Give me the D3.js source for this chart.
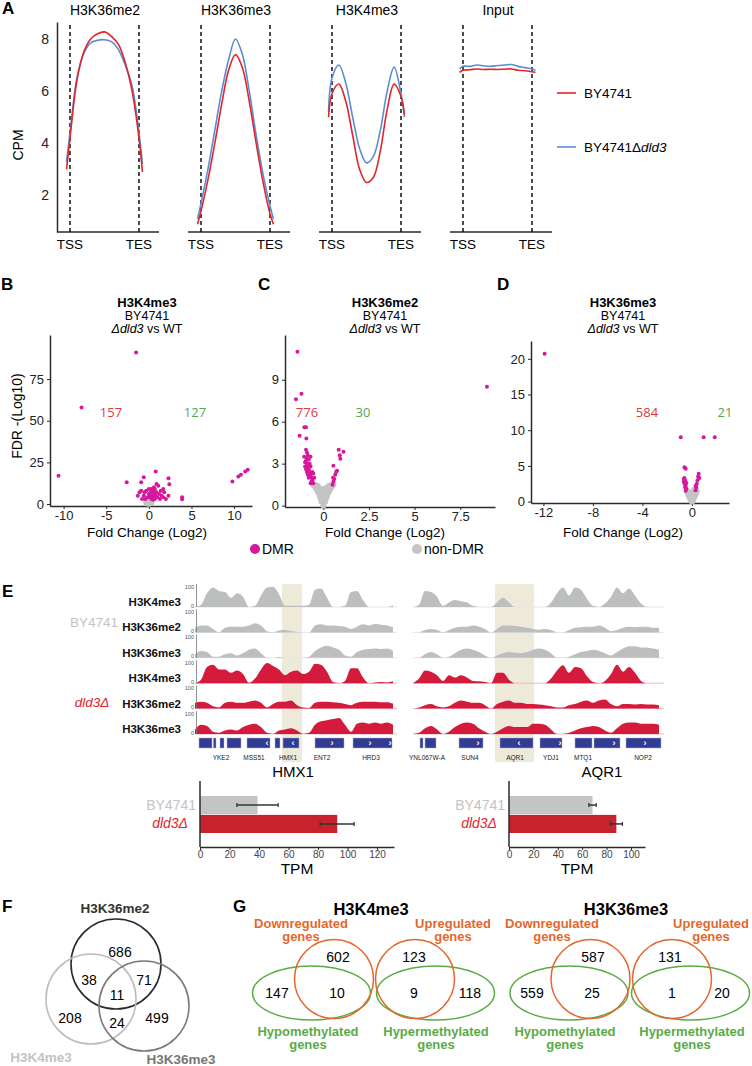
<!DOCTYPE html>
<html>
<head>
<meta charset="utf-8">
<script src="https://cdn.jsdelivr.net/npm/d3@7"></script>
<style>
  body { margin: 0; background: #fff; }
  svg { display: block; }
</style>
</head>
<body>
<script>
console.clear();

// 1. DATA -------------------------------------------------------------------------

// A. metagene profiles (CPM), sampled from 5% upstream of TSS to 5% past TES
const profilePos   = [-0.05, 0, 0.1, 0.2, 0.3, 0.4, 0.5, 0.6, 0.7, 0.8, 0.9, 1, 1.05];
const profileMarks = ["H3K36me2", "H3K36me3", "H3K4me3", "Input"];
const profileWT = [
  [3.0, 4.2, 6.4, 7.5, 8.0, 8.2, 8.27, 8.1, 7.8, 7.1, 6.0, 4.2, 2.9],
  [0.9, 1.4, 2.6, 4.0, 5.5, 6.8, 7.4, 6.9, 5.6, 4.0, 2.5, 1.3, 0.9],
  [5.0, 5.9, 6.27, 5.6, 4.3, 3.0, 2.5, 2.7, 3.7, 5.3, 6.27, 5.8, 5.1],
  [6.72, 6.8, 6.82, 6.85, 6.83, 6.84, 6.83, 6.84, 6.85, 6.8, 6.78, 6.74, 6.72]
];
const profileKO = [
  [3.3, 4.4, 6.5, 7.45, 7.85, 7.95, 7.97, 7.9, 7.6, 7.0, 6.2, 4.4, 3.2],
  [1.1, 1.7, 3.0, 4.5, 6.0, 7.2, 8.0, 7.4, 6.0, 4.3, 2.8, 1.6, 1.1],
  [5.2, 6.5, 7.0, 6.3, 5.0, 3.8, 3.25, 3.5, 4.5, 6.0, 6.92, 5.9, 5.0],
  [6.85, 6.95, 6.95, 7.0, 6.97, 6.95, 6.98, 7.0, 7.02, 6.95, 6.9, 6.85, 6.8]
];

// B-D. volcano plots: [log2 fold change, -log10 FDR]
const volcanoTitles = ["H3K4me3", "H3K36me2", "H3K36me3"];
const dmrDownCounts = [157, 776, 584];
const dmrUpCounts   = [127, 30, 21];

const k4DMR = [
  [-1.5, 91], [-7.9, 58], [-10.6, 17], [-2.6, 13], [-0.9, 13], [-0.6, 16], [0.8, 19.5], [2.3, 15.5],
  [2.4, 11.8], [1.7, 9], [3.9, 4], [3.9, 2.8], [9.8, 13.5], [10.5, 16.5], [10.8, 17.5], [11.3, 19.5], [11.6, 20.5],
  [-0.5, 7], [-0.3, 8], [0, 6], [0.2, 5], [0.4, 7.5], [0.5, 8], [0.6, 6], [0.8, 5], [1, 4], [1.2, 6],
  [1.5, 5], [1.7, 4], [2, 3], [-0.8, 3], [-0.6, 5], [0.3, 9], [0.1, 4], [0.7, 3], [-0.2, 4], [0.9, 7],
  [1.4, 8], [0.6, 10], [0.9, 12], [1.1, 11], [0.8, 7], [-1.1, 7], [-0.9, 8], [0.5, 4], [0.3, 3],
  [-0.4, 3], [1.8, 7], [2.3, 5], [0, 9], [0.2, 7], [0.4, 5], [0.7, 9], [1.3, 3], [-1.3, 5], [0.5, 2.5]
];
const k4Other = [
  [-0.3, 0.5], [-0.2, 1], [-0.1, 1.5], [0, 0.2], [0.1, 1.2], [0.2, 2], [0.3, 0.8], [-0.4, 2.5],
  [0.4, 2.8], [0, 2], [-0.15, 3], [0.15, 0.5], [0.05, 2.5], [-0.05, 1], [0.25, 3.2], [-0.25, 1.8]
];
const k36me2DMR = [
  [-1.42, 11], [-1.2, 8.0], [-1.5, 7.6], [-1.04, 5.6], [-0.95, 5.6], [-1.3, 5.0], [-0.93, 4.8],
  [-0.55, 1.6], [-0.6, 1.8], [-0.65, 2], [-0.7, 2.2], [-0.75, 2.4], [-0.8, 2.6], [-0.85, 2.8], [-0.9, 3.0],
  [-0.95, 3.2], [-0.9, 3.4], [-0.85, 3.6], [-0.9, 3.8], [-0.95, 4.0], [-0.7, 1.6], [-0.8, 2.0], [-0.9, 2.4],
  [-1.0, 2.8], [-1.0, 3.1], [-0.6, 2.4], [-0.7, 2.8], [-0.75, 3.0], [-0.5, 2.0], [-0.55, 2.3], [-0.65, 1.7],
  [-0.85, 2.2], [-0.95, 2.6], [-0.8, 3.3], [-0.7, 3.5], [-1.05, 3.5],
  [0.5, 1.5], [0.55, 1.7], [0.6, 1.9], [0.53, 2.0], [0.65, 2.2], [0.7, 2.4], [0.75, 2.5], [0.55, 2.85],
  [0.93, 3.35], [0.9, 3.6], [0.84, 4.0], [1.1, 3.85], [8.96, 8.5]
];
const k36me2Other = [
  [0, 0], [0, 0.3], [-0.1, 0.3], [0.1, 0.3], [-0.15, 0.5], [0.15, 0.5], [-0.2, 0.7], [0.2, 0.7],
  [-0.25, 0.9], [0.25, 0.9], [-0.3, 1.0], [0.3, 1.0], [-0.35, 1.1], [0.35, 1.1], [-0.4, 1.25], [0.4, 1.25],
  [-0.45, 1.35], [0.45, 1.35], [-0.5, 1.45], [0.5, 1.45], [-0.3, 1.4], [0.3, 1.4], [-0.1, 1.0], [0.1, 0.9],
  [-0.2, 1.2], [0.2, 1.3], [0, 0.6], [-0.4, 1.45], [0.4, 1.45], [0.55, 1.5], [-0.55, 1.5], [0, 1.2]
];
const k36me3DMR = [
  [-11.9, 20.7], [-0.9, 9], [0.95, 9], [1.85, 9],
  [-0.5, 1.5], [-0.55, 2], [-0.6, 2.5], [-0.55, 3], [-0.6, 3.3], [-0.65, 2.8], [-0.5, 2.2], [-0.45, 1.8],
  [-0.6, 4.8], [-0.5, 4.6], [-0.55, 4.7], [-0.65, 3.2], [-0.45, 2.6],
  [0.3, 1.6], [0.35, 2], [0.4, 2.5], [0.45, 3], [0.5, 3.5], [0.55, 3.9], [0.3, 2.2], [0.6, 3.3]
];
const k36me3Other = [
  [0, 0], [-0.1, 0.3], [0.1, 0.3], [-0.2, 0.6], [0.2, 0.6], [-0.3, 1.0], [0.3, 1.0], [-0.35, 1.3],
  [0.35, 1.3], [-0.4, 1.5], [0.4, 1.5], [0, 0.8], [-0.1, 1.2], [0.1, 1.4], [0.2, 1.7], [-0.2, 1.1], [0.05, 0.1]
];

// E. browser tracks (coverage 0-100 in 0.3 kb bins), row order K4me3, K36me2, K36me3
const trackNames = ["H3K4me3", "H3K36me2", "H3K36me3"];
const hmxWT = [
  [0, 10, 60, 85, 70, 65, 40, 60, 45, 0, 5, 50, 85, 88, 55, 5, 5, 5, 5, 10, 75, 80, 40, 0, 0, 5, 65, 70, 30, 0, 0, 0, 0, 8],
  [20, 30, 30, 15, 0, 20, 25, 25, 25, 30, 40, 30, 5, 0, 8, 10, 5, 3, 0, 0, 30, 35, 30, 30, 28, 25, 15, 25, 35, 30, 38, 33, 30, 22],
  [15, 30, 25, 5, 5, 15, 20, 10, 20, 35, 40, 20, 0, 0, 5, 0, 0, 0, 0, 5, 30, 45, 52, 45, 35, 10, 5, 25, 35, 38, 40, 38, 40, 30]
];
const hmxKO = [
  [0, 15, 70, 80, 60, 60, 45, 55, 40, 2, 20, 60, 88, 75, 60, 35, 50, 55, 40, 50, 85, 80, 50, 5, 0, 10, 65, 65, 25, 0, 3, 5, 3, 8],
  [25, 30, 25, 10, 5, 25, 30, 25, 25, 30, 35, 25, 5, 20, 30, 30, 35, 15, 5, 3, 25, 30, 30, 28, 25, 20, 15, 25, 30, 30, 30, 28, 28, 22],
  [20, 40, 35, 10, 5, 15, 20, 15, 30, 40, 45, 30, 5, 0, 15, 20, 25, 15, 0, 5, 40, 55, 60, 65, 70, 40, 10, 45, 50, 45, 50, 45, 50, 40]
];
const aqrWT = [
  [0, 10, 70, 65, 45, 5, 20, 30, 25, 20, 5, 0, 0, 0, 20, 40, 20, 0, 0, 0, 0, 0, 0, 20, 60, 85, 50, 85, 75, 35, 5, 0, 15, 45, 85, 60, 80, 50, 15, 0, 0, 0],
  [0, 0, 10, 15, 10, 0, 10, 20, 25, 25, 30, 25, 15, 0, 15, 30, 30, 28, 25, 20, 15, 12, 15, 10, 0, 0, 10, 20, 22, 25, 25, 30, 20, 5, 10, 20, 25, 22, 25, 25, 20, 20],
  [0, 0, 15, 25, 15, 0, 5, 20, 35, 40, 35, 25, 10, 0, 10, 20, 25, 22, 20, 25, 35, 40, 35, 20, 0, 0, 5, 15, 25, 30, 35, 30, 20, 10, 25, 40, 50, 50, 45, 45, 40, 35]
];
const aqrKO = [
  [0, 20, 55, 50, 35, 10, 35, 25, 35, 25, 10, 8, 5, 0, 45, 45, 15, 0, 0, 0, 0, 0, 0, 20, 55, 78, 45, 70, 65, 30, 5, 0, 10, 40, 80, 50, 70, 45, 10, 0, 0, 0],
  [0, 5, 15, 20, 10, 5, 10, 25, 35, 30, 25, 25, 15, 0, 20, 30, 35, 25, 25, 20, 20, 18, 15, 10, 5, 5, 15, 20, 30, 35, 25, 35, 40, 20, 10, 20, 20, 18, 20, 18, 18, 15],
  [0, 5, 25, 35, 20, 0, 10, 30, 45, 50, 45, 25, 10, 0, 10, 25, 35, 30, 30, 30, 45, 45, 40, 20, 0, 0, 5, 15, 25, 30, 35, 30, 15, 5, 25, 45, 50, 50, 45, 45, 45, 40]
];
const binKb = 0.3;

// gene models (kb from window start)
const hmxGeneBlocks = [[0.2, 0.85], [0.92, 1.05], [1.25, 1.45], [1.6, 2.3], [2.6, 3.75], [4.0, 4.25], [4.4, 5.2], [6.0, 7.45], [7.9, 9.85]];
const hmxGeneNames  = [["YKE2", 1.3], ["MSS51", 2.95], ["HMX1", 4.65], ["ENT2", 6.35], ["HRD3", 8.8]];
const hmxArrows     = [["‹", 3.6], ["‹", 4.9], ["›", 6.85], ["›", 8.75], ["›", 9.75]];
const aqrGeneBlocks = [[0.35, 0.5], [0.6, 1.15], [2.3, 3.5], [4.35, 6.0], [6.35, 7.45], [8.1, 8.95], [9.05, 10.35], [10.65, 12.4]];
const aqrGeneNames  = [["YNL067W-A", 0.7], ["SUN4", 2.85], ["AQR1", 5.1], ["YDJ1", 6.9], ["MTQ1", 8.5], ["NOP2", 11.5]];
const aqrArrows     = [["›", 3.25], ["‹", 5.3], ["›", 7.35], ["›", 10.05], ["›", 11.6]];
const hmxHighlight = [4.35, 5.35],
      aqrHighlight = [4.1, 6.05];

// E. expression (TPM, mean and sd)
const strains = ["BY4741", "dld3Δ"];
const hmxTPM = [39, 93],
      hmxSD  = [14, 11.5];
const aqrTPM = [68.5, 88],
      aqrSD  = [3, 5];

// F. DMR overlap (H3K36me2 only, me2∩K4, me2∩me3, all, K4 only, K4∩me3, me3 only)
const vennFSets   = ["H3K36me2", "H3K4me3", "H3K36me3"];
const vennFCounts = [686, 38, 71, 11, 208, 24, 499];

// G. DMR vs DEG overlaps: [regulated only, methylated only, both]
const vennGTitles = ["H3K4me3", "H3K36me3"];
const vennGCounts = [[602, 147, 10], [123, 118, 9], [587, 559, 25], [131, 20, 1]];

// 2. GLOBALS -------------------------------------------------------------------------

const width = 752,
      height = 1066,
      sans = '"Liberation Sans", Arial, sans-serif',
      wtRed = "#e0262b",
      koBlue = "#5b8dd5",
      dmrColor = "#d6189b",
      nonDmrColor = "#c4c4c4",
      trackGray = "#bdbfbf",
      trackRed = "#d41b3c",
      labelGray = "#c3c3c3",
      labelRed = "#e0262b",
      orange = "#e3682b",
      green = "#5aab46",
      axisColor = "#2b2b2b";

const svg = d3.select("body")
  .append("svg")
  .attr("width", width)
  .attr("height", height)
  .style("font-family", sans);

function styleAxis(g, fontSize) {
  g.select(".domain").attr("stroke", axisColor).attr("stroke-width", 1.5);
  g.selectAll(".tick line").attr("stroke", axisColor);
  g.selectAll(".tick text").attr("fill", "#222").attr("font-size", fontSize).attr("font-family", sans);
}

// panel letters
[["A", 2, 14], ["B", 1, 290], ["C", 258, 290], ["D", 497, 290], ["E", 2, 597], ["F", 2, 912], ["G", 233, 912]]
  .forEach(([t, x, y]) => svg.append("text").attr("x", x).attr("y", y)
    .attr("font-size", 17).attr("font-weight", "bold").text(t));

// 3. PANEL A: PROFILES -------------------------------------------------------------------------

const profileY = d3.scaleLinear().domain([0.6, 8.65]).range([232, 22]);
const profileLeft = [57, 188, 319, 450];

profileMarks.forEach((mark, i) => {
  const left = profileLeft[i];
  const x = d3.scaleLinear().domain([0, 1]).range([left + 13, left + 82]);
  const g = svg.append("g");

  g.append("text").attr("x", left + 48).attr("y", 15)
    .attr("text-anchor", "middle").attr("font-size", 14).text(mark);

  g.append("line")
    .attr("x1", left).attr("x2", left + 102).attr("y1", 232).attr("y2", 232)
    .attr("stroke", axisColor).attr("stroke-width", 1.5);

  if (i === 0) {
    const ya = g.append("g").attr("transform", `translate(${left},0)`)
      .call(d3.axisLeft(profileY).tickValues([2, 4, 6, 8]).tickSize(0).tickPadding(8).tickSizeOuter(0));
    styleAxis(ya, 14);
    g.append("text").attr("transform", "translate(23,145) rotate(-90)")
      .attr("text-anchor", "middle").attr("font-size", 14).text("CPM");
  }

  [[0, "TSS"], [1, "TES"]].forEach(([p, lab]) => {
    g.append("line")
      .attr("x1", x(p)).attr("x2", x(p)).attr("y1", 25).attr("y2", 232)
      .attr("stroke", "#111").attr("stroke-width", 1.5).attr("stroke-dasharray", "4,3");
    g.append("text").attr("x", x(p)).attr("y", 249)
      .attr("text-anchor", "middle").attr("font-size", 13.5).text(lab);
  });

  const line = d3.line()
    .x((d, j) => x(profilePos[j]))
    .y(d => profileY(d))
    .curve(d3.curveCatmullRom.alpha(0.5));

  g.append("path").datum(profileKO[i]).attr("d", line)
    .attr("fill", "none").attr("stroke", koBlue).attr("stroke-width", 1.6);
  g.append("path").datum(profileWT[i]).attr("d", line)
    .attr("fill", "none").attr("stroke", wtRed).attr("stroke-width", 1.6);
});

// legend
[[wtRed, 93, false], [koBlue, 147, true]].forEach(([c, y, ko]) => {
  svg.append("line").attr("x1", 557).attr("x2", 576).attr("y1", y).attr("y2", y)
    .attr("stroke", c).attr("stroke-width", 1.6);
  const t = svg.append("text").attr("x", 584).attr("y", y + 5).attr("font-size", 13.5).text("BY4741");
  if (ko) {
    t.append("tspan").text("Δ");
    t.append("tspan").attr("font-style", "italic").text("dld3");
  }
});

// 4. PANELS B-D: VOLCANO PLOTS -------------------------------------------------------------------------

const volcanoes = [
  { left: 50, right: 252, top: 335, bottom: 506, xDomain: [-11.6, 12.1], yDomain: [-1.2, 101.5],
    xTicks: [-10, -5, 0, 5, 10], yTicks: [0, 25, 50, 75], dmr: k4DMR, other: k4Other,
    center: 147, downX: 111, upX: 195 },
  { left: 285, right: 495, top: 335, bottom: 507, xDomain: [-2.1, 9.4], yDomain: [-0.1, 12.2],
    xTicks: [0, 2.5, 5, 7.5], yTicks: [0, 3, 6, 9], dmr: k36me2DMR, other: k36me2Other,
    center: 385, downX: 307, upX: 363 },
  { left: 531, right: 729, top: 341, bottom: 503, xDomain: [-13, 3], yDomain: [-0.2, 22.5],
    xTicks: [-12, -8, -4, 0], yTicks: [0, 5, 10, 15, 20], dmr: k36me3DMR, other: k36me3Other,
    center: 623, downX: 647, upX: 725 }
];

volcanoes.forEach((v, i) => {
  const x = d3.scaleLinear().domain(v.xDomain).range([v.left, v.right]);
  const y = d3.scaleLinear().domain(v.yDomain).range([v.bottom, v.top]);
  const g = svg.append("g");

  // title block
  g.append("text").attr("x", v.center).attr("y", 307).attr("text-anchor", "middle")
    .attr("font-size", 13).attr("font-weight", "bold").text(volcanoTitles[i]);
  g.append("text").attr("x", v.center).attr("y", 319.5).attr("text-anchor", "middle")
    .attr("font-size", 12.5).text("BY4741");
  const sub = g.append("text").attr("x", v.center).attr("y", 333).attr("text-anchor", "middle").attr("font-size", 12.5);
  sub.append("tspan").attr("font-style", "italic").text("Δdld3");
  sub.append("tspan").text(" vs WT");

  const xa = g.append("g").attr("transform", `translate(0,${v.bottom})`)
    .call(d3.axisBottom(x).tickValues(v.xTicks).tickFormat(d => String(d)).tickSize(3).tickPadding(2).tickSizeOuter(0));
  styleAxis(xa, 13);
  const ya = g.append("g").attr("transform", `translate(${v.left},0)`)
    .call(d3.axisLeft(y).tickValues(v.yTicks).tickFormat(d => String(d)).tickSize(3).tickSizeOuter(0));
  styleAxis(ya, 13);

  g.append("text").attr("x", v.center).attr("y", 537).attr("text-anchor", "middle")
    .attr("font-size", 13.5).text("Fold Change (Log2)");

  g.selectAll(".other").data(v.other).enter().append("circle")
    .attr("cx", d => x(d[0])).attr("cy", d => y(d[1])).attr("r", 3).attr("fill", nonDmrColor);
  g.selectAll(".dmr").data(v.dmr).enter().append("circle")
    .attr("cx", d => x(d[0])).attr("cy", d => y(d[1])).attr("r", 2).attr("fill", dmrColor);

  g.append("text").attr("x", v.downX).attr("y", 417).attr("text-anchor", "middle")
    .attr("font-family", '"Open Sans", sans-serif').attr("font-size", 13).attr("fill", "#e2393a").text(dmrDownCounts[i]);
  g.append("text").attr("x", v.upX).attr("y", 417).attr("text-anchor", "middle")
    .attr("font-family", '"Open Sans", sans-serif').attr("font-size", 13).attr("fill", "#55a84a").text(dmrUpCounts[i]);
});

svg.append("text").attr("transform", "translate(22,416) rotate(-90)")
  .attr("text-anchor", "middle").attr("font-size", 14).text("FDR -(Log10)");

// DMR legend
[[255, dmrColor, "DMR"], [417, nonDmrColor, "non-DMR"]].forEach(([x, c, t]) => {
  svg.append("circle").attr("cx", x).attr("cy", 549).attr("r", 5).attr("fill", c);
  svg.append("text").attr("x", x + 7).attr("y", 554).attr("font-size", 14).text(t);
});

// 5. PANEL E: BROWSER TRACKS -------------------------------------------------------------------------

const trackTop = 584,
      rowStep = 25.4,
      rowHeight = 23,
      geneY = 738;

function drawLocus(loc) {
  const x = d3.scaleLinear().domain([0, loc.kb]).range([loc.left, loc.right]);
  const g = svg.append("g");

  g.append("rect")
    .attr("x", x(loc.highlight[0])).attr("width", x(loc.highlight[1]) - x(loc.highlight[0]))
    .attr("y", trackTop).attr("height", 178).attr("rx", 2).attr("fill", "#eeead9");

  const rows = loc.wt.map((d, k) => ({ values: d, color: trackGray, base: "#e6e6e6", name: trackNames[k] }))
    .concat(loc.ko.map((d, k) => ({ values: d, color: trackRed, base: "#f2b7c0", name: trackNames[k] })));

  rows.forEach((row, r) => {
    const base = trackTop + rowHeight + r * rowStep;
    const y = d3.scaleLinear().domain([0, 100]).range([base, base - rowHeight]);
    const area = d3.area()
      .x((d, j) => x(j * binKb))
      .y0(base)
      .y1(d => y(d))
      .curve(d3.curveMonotoneX);

    g.append("line").attr("x1", loc.left).attr("x2", loc.right).attr("y1", base).attr("y2", base)
      .attr("stroke", row.base).attr("stroke-width", 1);
    g.append("path").datum(row.values).attr("d", area).attr("fill", row.color);

    if (loc.labels) {
      g.append("line").attr("x1", loc.left + 1.5).attr("x2", loc.left + 1.5)
        .attr("y1", base - rowHeight).attr("y2", base).attr("stroke", "#777").attr("stroke-width", 0.8);
      g.append("text").attr("x", loc.left - 1).attr("y", base - rowHeight + 4.5).attr("text-anchor", "end")
        .attr("font-size", 5.5).attr("fill", "#555").text("100");
      g.append("text").attr("x", loc.left - 1).attr("y", base + 0.5).attr("text-anchor", "end")
        .attr("font-size", 5.5).attr("fill", "#555").text("0");
      g.append("text").attr("x", 181).attr("y", base - 1).attr("text-anchor", "end")
        .attr("font-size", 11.5).attr("font-weight", "bold").attr("fill", "#111").text(row.name);
    }
  });

  g.selectAll(".gene").data(loc.blocks).enter().append("rect")
    .attr("x", d => x(d[0])).attr("width", d => x(d[1]) - x(d[0]))
    .attr("y", geneY).attr("height", 10)
    .attr("fill", "#323c93").attr("stroke", "#aab0d8").attr("stroke-width", 0.5);
  g.selectAll(".arrow").data(loc.arrows).enter().append("text")
    .attr("x", d => x(d[1])).attr("y", geneY + 8).attr("text-anchor", "middle")
    .attr("font-size", 9).attr("font-weight", "bold").attr("fill", "#fff").text(d => d[0]);
  g.selectAll(".gname").data(loc.names).enter().append("text")
    .attr("x", d => x(d[1])).attr("y", geneY + 22).attr("text-anchor", "middle")
    .attr("font-size", 6.5).attr("fill", "#222").text(d => d[0]);
}

drawLocus({ left: 195, right: 397, kb: 10.1, wt: hmxWT, ko: hmxKO, blocks: hmxGeneBlocks,
  names: hmxGeneNames, arrows: hmxArrows, highlight: hmxHighlight, labels: true });
drawLocus({ left: 413, right: 664, kb: 12.55, wt: aqrWT, ko: aqrKO, blocks: aqrGeneBlocks,
  names: aqrGeneNames, arrows: aqrArrows, highlight: aqrHighlight, labels: false });

svg.append("text").attr("x", 94).attr("y", 627).attr("text-anchor", "middle")
  .attr("font-size", 13.5).attr("fill", labelGray).text("BY4741");
svg.append("text").attr("x", 92).attr("y", 707).attr("text-anchor", "middle")
  .attr("font-size", 13.5).attr("font-style", "italic").attr("fill", labelRed).text("dld3Δ");

// expression bars
function drawTPM(b) {
  const x = d3.scaleLinear().domain([0, b.max]).range([b.left, b.right]);
  const y = d3.scaleBand().domain(strains).range([796, 833]).paddingInner(0.04);
  const g = svg.append("g");

  g.append("text").attr("x", b.left + 93).attr("y", 777).attr("text-anchor", "middle")
    .attr("font-size", 15).text(b.gene);

  g.selectAll(".bar").data(b.tpm).enter().append("rect")
    .attr("x", x(0)).attr("y", (d, k) => y(strains[k]))
    .attr("width", d => x(d) - x(0)).attr("height", y.bandwidth())
    .attr("fill", (d, k) => k ? "#c8232c" : "#c3c5c5");

  b.tpm.forEach((d, k) => {
    const cy = y(strains[k]) + y.bandwidth() / 2;
    g.append("line").attr("x1", x(d - b.sd[k])).attr("x2", x(d + b.sd[k])).attr("y1", cy).attr("y2", cy)
      .attr("stroke", "#333").attr("stroke-width", 1.5);
    [d - b.sd[k], d + b.sd[k]].forEach(e => g.append("line")
      .attr("x1", x(e)).attr("x2", x(e)).attr("y1", cy - 2).attr("y2", cy + 2)
      .attr("stroke", "#333").attr("stroke-width", 1.2));
  });

  g.append("line").attr("x1", b.left).attr("x2", b.left).attr("y1", 781).attr("y2", 847)
    .attr("stroke", axisColor).attr("stroke-width", 1.5);
  const xa = g.append("g").attr("transform", "translate(0,847)")
    .call(d3.axisBottom(x).tickValues(b.ticks).tickSize(3).tickPadding(1).tickSizeOuter(0));
  styleAxis(xa, 10);
  xa.selectAll(".tick text").attr("fill", "#444");

  g.append("text").attr("x", (b.left + b.right) / 2).attr("y", 874).attr("text-anchor", "middle")
    .attr("font-size", 15.5).text("TPM");
  g.append("text").attr("x", b.left - 4).attr("y", 810).attr("text-anchor", "end")
    .attr("font-size", 14).attr("fill", labelGray).text(strains[0]);
  g.append("text").attr("x", b.left - 12).attr("y", 828).attr("text-anchor", "end")
    .attr("font-size", 14).attr("font-style", "italic").attr("fill", labelRed).text(strains[1]);
}

drawTPM({ gene: "HMX1", left: 200, right: 394, max: 131.5, ticks: [0, 20, 40, 60, 80, 100, 120], tpm: hmxTPM, sd: hmxSD });
drawTPM({ gene: "AQR1", left: 509, right: 645, max: 111.5, ticks: [0, 20, 40, 60, 80, 100], tpm: aqrTPM, sd: aqrSD });

// 6. PANEL F: THREE-WAY VENN -------------------------------------------------------------------------

const fCircles = [[116, 964, "#2b2b2b"], [91, 999, "#bdbdbd"], [144, 1006, "#7a7a7a"]];
fCircles.forEach(([cx, cy, c]) => svg.append("circle")
  .attr("cx", cx).attr("cy", cy).attr("r", 45)
  .attr("fill", "none").attr("stroke", c).attr("stroke-width", 1.6));

const fCountPos = [[120, 957], [89, 985], [144, 985], [117, 1000], [70, 1023], [117, 1028], [157, 1023]];
vennFCounts.forEach((n, k) => svg.append("text")
  .attr("x", fCountPos[k][0]).attr("y", fCountPos[k][1]).attr("text-anchor", "middle")
  .attr("font-size", 14).text(n));

[[115, 913, "#333"], [41, 1062, "#c3c3c3"], [181, 1064, "#777"]].forEach(([x, y, c], k) => svg.append("text")
  .attr("x", x).attr("y", y).attr("text-anchor", "middle").attr("font-size", 13.5)
  .attr("font-weight", "bold").attr("fill", c).text(vennFSets[k]));

// 7. PANEL G: DMR vs DEG VENNS -------------------------------------------------------------------------

[371, 626].forEach((x, k) => svg.append("text")
  .attr("x", x).attr("y", 915).attr("text-anchor", "middle")
  .attr("font-size", 16.5).attr("font-weight", "bold").text(vennGTitles[k]));

const gLayout = [
  { oc: 334, gc: 311.5, oLab: ["Downregulated", 301], gLab: ["Hypomethylated", 308], pos: [[338, 962], [277, 998], [337, 998]] },
  { oc: 415, gc: 435.5, oLab: ["Upregulated", 453], gLab: ["Hypermethylated", 436], pos: [[414, 962], [470, 998], [414, 998]] },
  { oc: 590.5, gc: 569, oLab: ["Downregulated", 552], gLab: ["Hypomethylated", 565], pos: [[593, 962], [532, 998], [592, 998]] },
  { oc: 672, gc: 690.5, oLab: ["Upregulated", 711], gLab: ["Hypermethylated", 692], pos: [[670, 962], [722, 998], [672, 998]] }
];

gLayout.forEach((l, k) => {
  svg.append("ellipse").attr("cx", l.gc).attr("cy", 993).attr("rx", 59).attr("ry", 27)
    .attr("fill", "none").attr("stroke", green).attr("stroke-width", 1.5);
  svg.append("circle").attr("cx", l.oc).attr("cy", 979).attr("r", 39.5)
    .attr("fill", "none").attr("stroke", orange).attr("stroke-width", 1.5);

  vennGCounts[k].forEach((n, j) => svg.append("text")
    .attr("x", l.pos[j][0]).attr("y", l.pos[j][1]).attr("text-anchor", "middle")
    .attr("font-size", 14).text(n));

  [[l.oLab, orange, 928], [l.gLab, green, 1036]].forEach(([lab, c, y]) => {
    [lab[0], "genes"].forEach((t, line) => svg.append("text")
      .attr("x", lab[1]).attr("y", y + line * 13).attr("text-anchor", "middle")
      .attr("font-size", 13).attr("font-weight", "bold").attr("fill", c).text(t));
  });
});
</script>
</body>
</html>
